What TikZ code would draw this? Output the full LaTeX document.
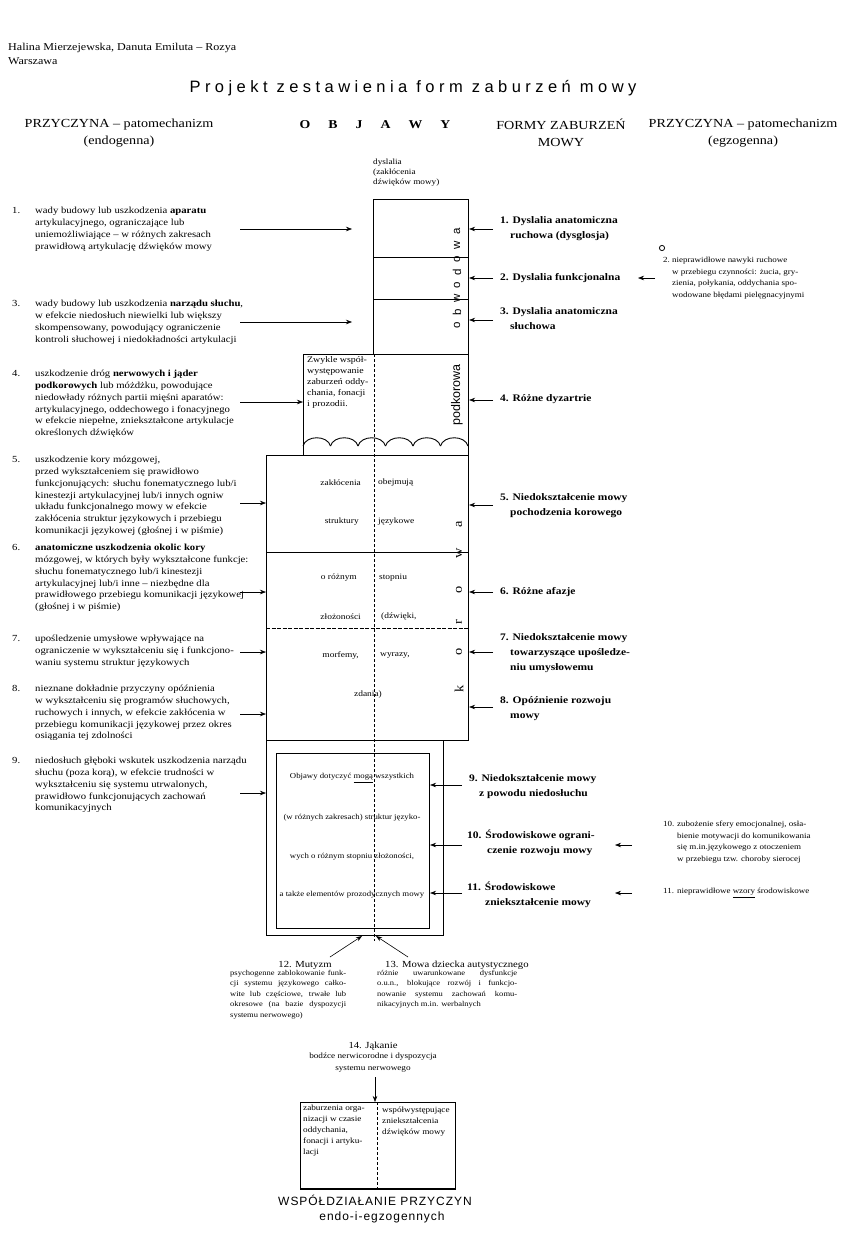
\documentclass[tikz,border=0pt]{standalone}
\usepackage{fontspec}
\setmainfont{Liberation Serif}[FakeStretch=1.15]
\newfontfamily\sansf{Liberation Sans}
\newfontfamily\titlef{Liberation Sans}[LetterSpace=27]
\newfontfamily\handf{Liberation Sans}[LetterSpace=8]
\usetikzlibrary{arrows.meta}
\begin{document}
\begin{tikzpicture}[x=1pt,y=-1pt,
  lt/.style={anchor=north west,inner sep=0pt,align=left,font=\fontsize{9.3}{11.8}\selectfont},
  num/.style={anchor=north west,inner sep=0pt,font=\fontsize{9.3}{11.8}\selectfont},
  forma/.style={anchor=north west,inner sep=0pt,align=left,font=\bfseries\fontsize{10}{15}\selectfont},
  et/.style={anchor=north west,inner sep=0pt,align=left,font=\fontsize{7.8}{11.6}\selectfont},
  ct/.style={inner sep=0pt,font=\fontsize{8.2}{10}\selectfont},
  frame/.style={draw,line width=1.1pt,inner sep=0pt,anchor=north west},
  arr/.style={-{Stealth[length=6pt,width=4.5pt]},line width=0.6pt},
  dsh/.style={dash pattern=on 3pt off 2pt,line width=0.6pt},
  rotl/.style={rotate=90,inner sep=0pt,font=\sansf\fontsize{11.5}{11.5}\selectfont},
  rotk/.style={rotate=90,inner sep=0pt,font=\fontsize{12.5}{12.5}\selectfont},
  hd/.style={inner sep=0pt,align=center,font=\fontsize{12.3}{17}\selectfont},
]
\fill[white] (0,0) rectangle (867,1247);
\useasboundingbox (0,0) rectangle (867,1247);

% header
\node[anchor=west,inner sep=0pt,font=\fontsize{10.5}{12}\selectfont] (auth) at (8,48) {Halina Mierzejewska, Danuta Emiluta – Rozya};
\node[anchor=west,inner sep=0pt,font=\fontsize{10.5}{12}\selectfont] (city) at (8,61) {Warszawa};
\node[inner sep=0pt,font=\titlef\fontsize{16.5}{18}\selectfont] (title) at (413,88) {Projekt zestawienia form zaburzeń mowy};

\node[hd] (h1) at (119,133) {PRZYCZYNA – patomechanizm\\(endogenna)};
\node[inner sep=0pt,font=\bfseries\fontsize{12}{14}\selectfont] (h2) at (375,125) {O\hspace{18pt}B\hspace{18pt}J\hspace{18pt}A\hspace{18pt}W\hspace{18pt}Y};
\node[hd] (h3) at (561,133) {FORMY ZABURZEŃ\\MOWY};
\node[hd] (h4) at (743,133) {PRZYCZYNA – patomechanizm\\(egzogenna)};

% central column
\node[anchor=north west,inner sep=0pt,align=left,font=\fontsize{8}{10}\selectfont] (dys) at (373,159) {dyslalia\\(zakłócenia\\dźwięków mowy)};
\node[frame,minimum width=95pt,minimum height=155pt] (obw) at (373,199) {};
\draw[line width=0.8pt] (373,257) -- (468,257);
\draw[line width=0.8pt] (373,299) -- (468,299);
\foreach \c/\yy in {o/325,b/312,w/298,o/285,d/272,o/259,w/245,a/231}
  \node[rotl] at (457,\yy) {\c};

\node[frame,minimum width=165pt,minimum height=101pt] (pod) at (303,354) {};
\foreach \i in {0,...,5}
  \draw[line width=0.9pt] ({303+\i*27.5},446) .. controls +(3,-11) and +(-3,-11) .. ({330.5+\i*27.5},446);
\node[anchor=north west,inner sep=0pt,align=left,font=\fontsize{8.6}{11}\selectfont] (zw) at (307,356) {Zwykle współ-\\występowanie\\zaburzeń oddy-\\chania, fonacji\\i prozodii.};
\node[rotl,font=\sansf\fontsize{12.5}{12.5}\selectfont] (pk) at (457,395) {podkorowa};

\node[frame,minimum width=202pt,minimum height=285pt] (kor) at (266,455) {};
\draw[line width=0.8pt] (266,552) -- (468,552);
\draw[line width=0.7pt,dash pattern=on 4pt off 1.5pt] (266,628) -- (468,628);
\foreach \c/\yy in {k/689,o/652,r/622,o/590,w/553,a/524}
  \node[rotk] at (459,\yy) {\c};
\node[ct,anchor=east] at (361,483) {zakłócenia};
\node[ct,anchor=west] at (378,483) {obejmują};
\node[ct,anchor=east] at (359,522) {struktury};
\node[ct,anchor=west] at (378,522) {językowe};
\node[ct,anchor=east] at (357,578) {o różnym};
\node[ct,anchor=west] at (379,578) {stopniu};
\node[ct,anchor=east] at (361,617) {złożoności};
\node[ct,anchor=west] at (381,617) {(dźwięki,};
\node[ct,anchor=east] at (359,655) {morfemy,};
\node[ct,anchor=west] at (380,655) {wyrazy,};
\node[ct] at (368,695) {zdania)};

\node[frame,minimum width=177pt,minimum height=195pt] (low) at (266,740) {};
\node[frame,minimum width=153pt,minimum height=175pt] (inn) at (276,753) {};
\node[ct,font=\fontsize{7.6}{10}\selectfont] at (352,778) {Objawy dotyczyć \underline{mogą} wszystkich};
\node[ct,font=\fontsize{7.6}{10}\selectfont] at (352,818) {(w różnych zakresach) struktur języko-};
\node[ct,font=\fontsize{7.6}{10}\selectfont] at (352,857) {wych o różnym stopniu złożoności,};
\node[ct,font=\fontsize{7.6}{10}\selectfont] at (352,895) {a także elementów prozodycznych mowy};

\draw[dsh] (374,354) -- (374,941);

% left causes
\node[num] (n1) at (12,207) {1.};
\node[lt] (t1) at (35,207) {wady budowy lub uszkodzenia \textbf{aparatu}\\artykulacyjnego, ograniczające lub\\uniemożliwiające – w różnych zakresach\\prawidłową artykulację dźwięków mowy};
\node[num] (n3) at (12,300) {3.};
\node[lt] (t3) at (35,300) {wady budowy lub uszkodzenia \textbf{narządu słuchu},\\w efekcie niedosłuch niewielki lub większy\\skompensowany, powodujący ograniczenie\\kontroli słuchowej i niedokładności artykulacji};
\node[num] (n4) at (12,370) {4.};
\node[lt] (t4) at (35,370) {uszkodzenie dróg \textbf{nerwowych i jąder}\\\textbf{podkorowych} lub móżdżku, powodujące\\niedowłady różnych partii mięśni aparatów:\\artykulacyjnego, oddechowego i fonacyjnego\\w efekcie niepełne, zniekształcone artykulacje\\określonych dźwięków};
\node[num] (n5) at (12,456) {5.};
\node[lt] (t5) at (35,456) {uszkodzenie kory mózgowej,\\przed wykształceniem się prawidłowo\\funkcjonujących: słuchu fonematycznego lub/i\\kinestezji artykulacyjnej lub/i innych ogniw\\układu funkcjonalnego mowy w efekcie\\zakłócenia struktur językowych i przebiegu\\komunikacji językowej (głośnej i w piśmie)};
\node[num] (n6) at (12,544) {6.};
\node[lt] (t6) at (35,544) {\textbf{anatomiczne uszkodzenia okolic kory}\\mózgowej, w których były wykształcone funkcje:\\słuchu fonematycznego lub/i kinestezji\\artykulacyjnej lub/i inne – niezbędne dla\\prawidłowego przebiegu komunikacji językowej\\(głośnej i w piśmie)};
\node[num] (n7) at (12,635) {7.};
\node[lt] (t7) at (35,635) {upośledzenie umysłowe wpływające na\\ograniczenie w wykształceniu się i funkcjono-\\waniu systemu struktur językowych};
\node[num] (n8) at (12,685) {8.};
\node[lt] (t8) at (35,685) {nieznane dokładnie przyczyny opóźnienia\\w wykształceniu się programów słuchowych,\\ruchowych i innych, w efekcie zakłócenia w\\przebiegu komunikacji językowej przez okres\\osiągania tej zdolności};
\node[num] (n9) at (12,757) {9.};
\node[lt] (t9) at (35,757) {niedosłuch głęboki wskutek uszkodzenia narządu\\słuchu (poza korą), w efekcie trudności w\\wykształceniu się systemu utrwalonych,\\prawidłowo funkcjonujących zachowań\\komunikacyjnych};

\coordinate (la1) at (240,229); \coordinate (lb1) at (352,229);
\draw[arr] (la1) -- (lb1);
\coordinate (la3) at (240,322); \coordinate (lb3) at (352,322);
\draw[arr] (la3) -- (lb3);
\coordinate (la4) at (240,402); \draw[arr] (la4) -- (la4 -| pod.west);
\coordinate (la5) at (240,503); \draw[arr] (la5) -- (la5 -| kor.west);
\coordinate (la6) at (240,592); \draw[arr] (la6) -- (la6 -| kor.west);
\coordinate (la7) at (240,652); \draw[arr] (la7) -- (la7 -| kor.west);
\coordinate (la8) at (240,714); \draw[arr] (la8) -- (la8 -| kor.west);
\coordinate (la9) at (240,793); \draw[arr] (la9) -- (la9 -| low.west);

% forms
\node[forma] (f1) at (500,216) {1. Dyslalia anatomiczna\\\hspace*{10pt}ruchowa (dysglosja)};
\node[forma] (f2) at (500,273) {2. Dyslalia funkcjonalna};
\node[forma] (f3) at (500,307) {3. Dyslalia anatomiczna\\\hspace*{10pt}słuchowa};
\node[forma] (f4) at (500,394) {4. Różne dyzartrie};
\node[forma] (f5) at (500,493) {5. Niedokształcenie mowy\\\hspace*{10pt}pochodzenia korowego};
\node[forma] (f6) at (500,587) {6. Różne afazje};
\node[forma] (f7) at (500,633) {7. Niedokształcenie mowy\\\hspace*{10pt}towarzyszące upośledze-\\\hspace*{10pt}niu umysłowemu};
\node[forma] (f8) at (500,696) {8. Opóźnienie rozwoju\\\hspace*{10pt}mowy};
\node[forma] (f9) at (469,774) {9. Niedokształcenie mowy\\\hspace*{10pt}z powodu niedosłuchu};
\node[forma] (f10) at (467,830) {10. Środowiskowe ograni-\\\hspace*{20pt}czenie rozwoju mowy};
\node[forma] (f11) at (467,882) {11. Środowiskowe\\\hspace*{18pt}zniekształcenie mowy};

\foreach \n/\yy in {1/229,2/278,3/320,4/400}
  {\coordinate (r\n) at (493,\yy); \draw[arr] (r\n) -- (r\n -| obw.east);}
\foreach \n/\yy in {5/505,6/592,7/652,8/707}
  {\coordinate (r\n) at (493,\yy); \draw[arr] (r\n) -- (r\n -| kor.east);}
\foreach \n/\yy in {9/785,10/845,11/893}
  {\coordinate (r\n) at (462,\yy); \draw[arr] (r\n) -- (r\n -| inn.east);}

% exogenous causes
\node[et] (e2n) at (663,257) {2.};
\node[et] (e2) at (672,257) {nieprawidłowe nawyki ruchowe\\w przebiegu czynności: żucia, gry-\\zienia, połykania, oddychania spo-\\wodowane błędami pielęgnacyjnymi};
\draw[line width=0.8pt] (662,248) circle (2.6pt);
\coordinate (e2a) at (655,278); \coordinate (e2b) at (638,278);
\draw[arr] (e2a) -- (e2b);
\node[et] (e10n) at (663,821) {10.};
\node[et] (e10) at (677,821) {zubożenie sfery emocjonalnej, osła-\\bienie motywacji do komunikowania\\się m.in.językowego z otoczeniem\\w przebiegu tzw. choroby sierocej};
\coordinate (e10a) at (632,845); \coordinate (e10b) at (615,845);
\draw[arr] (e10a) -- (e10b);
\node[et] (e11n) at (663,888) {11.};
\node[et] (e11) at (677,888) {nieprawidłowe \underline{wzory} środowiskowe};
\coordinate (e11a) at (632,893); \coordinate (e11b) at (615,893);
\draw[arr] (e11a) -- (e11b);

% bottom
\coordinate (m12) at (330,957); \coordinate (m12h) at (362,936);
\draw[arr] (m12) -- (m12h);
\coordinate (m13) at (408,957); \coordinate (m13h) at (376,936);
\draw[arr] (m13) -- (m13h);
\node[inner sep=0pt,font=\fontsize{9.3}{11}\selectfont] (mut) at (305,965) {12. Mutyzm};
\node[anchor=north west,inner sep=0pt,text width=116pt,align=justify,font=\fontsize{7.4}{10.4}\selectfont] (mutb) at (230,970) {psychogenne zablokowanie funk-\linebreak cji systemu językowego całko-\linebreak wite lub częściowe, trwałe lub\linebreak okresowe (na bazie dyspozycji\linebreak systemu nerwowego)};
\node[anchor=west,inner sep=0pt,font=\fontsize{9.3}{11}\selectfont] (aut) at (385,965) {13. Mowa dziecka autystycznego};
\node[anchor=north west,inner sep=0pt,text width=140pt,align=justify,font=\fontsize{7.4}{10.4}\selectfont] (autb) at (377,970) {różnie uwarunkowane dysfunkcje\linebreak o.u.n., blokujące rozwój i funkcjo-\linebreak nowanie systemu zachowań komu-\linebreak nikacyjnych m.in. werbalnych};

\node[inner sep=0pt,font=\fontsize{9.3}{11}\selectfont] (jak) at (373,1046) {14. Jąkanie};
\node[anchor=north,inner sep=0pt,align=center,font=\fontsize{8}{12}\selectfont] (jakb) at (373,1053) {bodźce nerwicorodne i dyspozycja\\systemu nerwowego};
\node[frame,minimum width=155pt,minimum height=86pt] (bot) at (300,1102) {};
\coordinate (j14) at (375,1077);
\draw[arr] (j14) -- (j14 |- bot.north);
\draw[line width=1.6pt] (bot.south west) -- (bot.south east);
\draw[dsh] (377,1102) -- (377,1188);
\node[anchor=north west,inner sep=0pt,align=left,font=\fontsize{8}{11}\selectfont] (bl) at (303,1105) {zaburzenia orga-\\nizacji w czasie\\oddychania,\\fonacji i artyku-\\lacji};
\node[anchor=north west,inner sep=0pt,align=left,font=\fontsize{8}{11}\selectfont] (br) at (382,1107) {współwystępujące\\zniekształcenia\\dźwięków mowy};
\node[inner sep=0pt,font=\handf\fontsize{12}{13}\selectfont] (hw1) at (375,1200) {WSPÓŁDZIAŁANIE PRZYCZYN};
\node[inner sep=0pt,font=\handf\fontsize{12}{13}\selectfont] (hw2) at (382,1217) {endo-i-egzogennych};
\end{tikzpicture}
\end{document}
